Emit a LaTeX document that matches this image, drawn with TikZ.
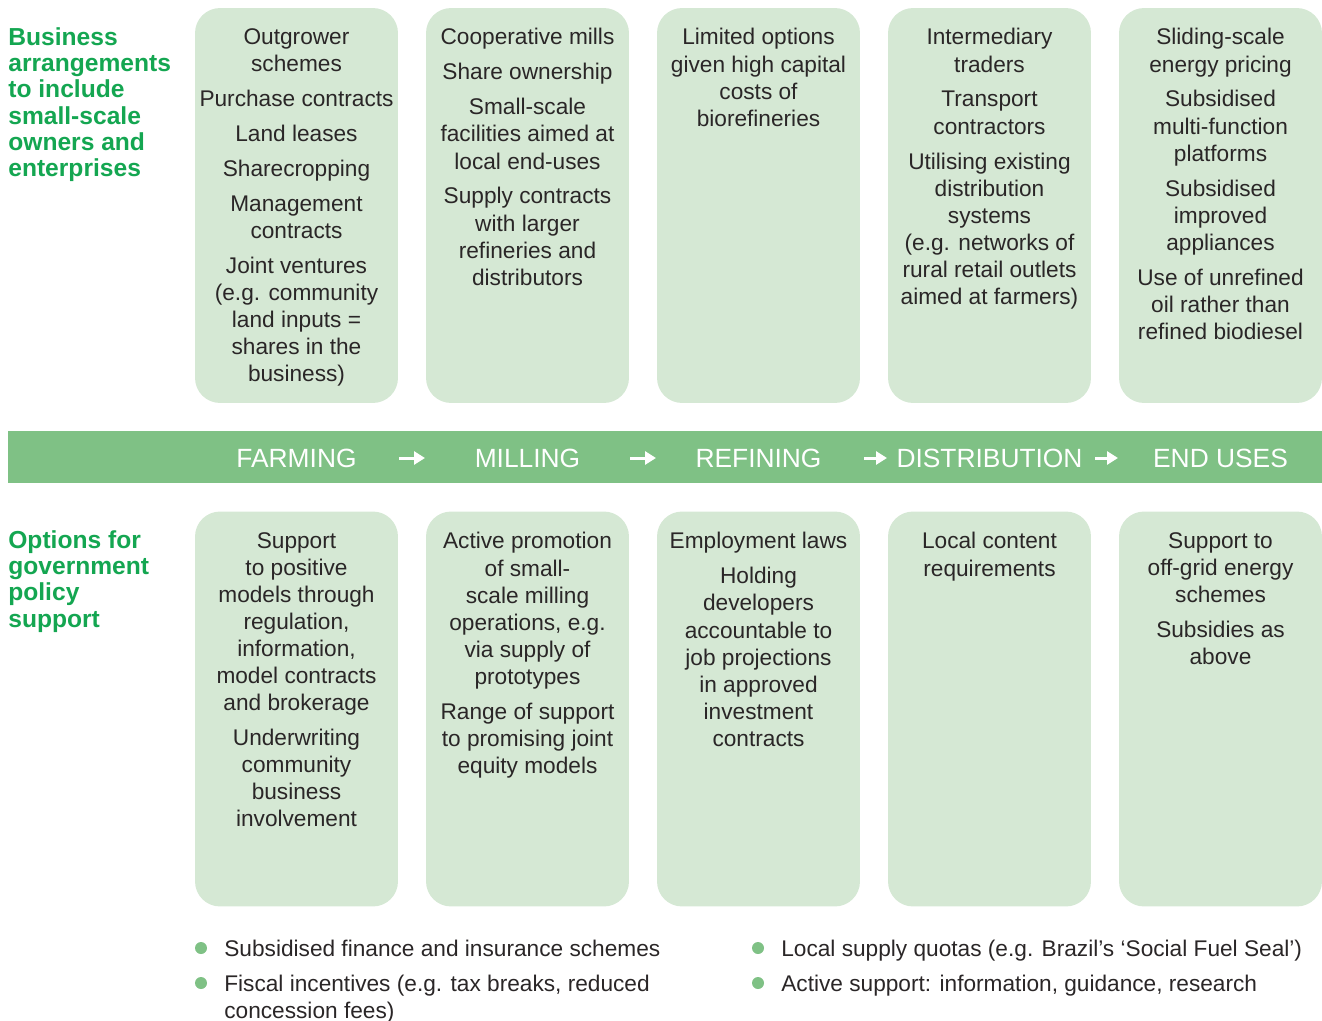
\documentclass[tikz,border=0pt]{standalone}
\usepackage{fontspec}
\setmainfont{Liberation Sans}
\usetikzlibrary{arrows.meta,calc}
\definecolor{boxgreen}{HTML}{D5E8D4}
\definecolor{bandgreen}{HTML}{7FC185}
\definecolor{headgreen}{HTML}{14A651}
\definecolor{inktext}{HTML}{2A2627}
\tikzset{
  stage/.style={fill=boxgreen, rounded corners=0.5cm, minimum width=4.06cm, minimum height=7.9cm, inner sep=0},
  entry/.style={anchor=north, inner sep=0, align=center, text=inktext, font=\fontsize{12.9}{15.4}\selectfont},
  heading/.style={anchor=north west, inner sep=0, align=left, text=headgreen, font=\fontsize{14}{15}\selectfont\bfseries},
  phase/.style={text=white, inner sep=0, font=\fontsize{15}{18}\selectfont},
  flow/.style={draw=white, line width=0.06cm, -{Triangle[length=0.22cm,width=0.26cm]}},
  dot/.style={circle, fill=bandgreen, minimum size=0.24cm, inner sep=0},
  point/.style={anchor=north west, inner sep=0, align=left, text=inktext, font=\fontsize{12.9}{15.4}\selectfont},
}
\begin{document}
\begin{tikzpicture}[x=0.02cm, y=-0.02cm]
  \useasboundingbox (0,0) rectangle (1322,1021);
  % headings
  \node[heading] (hbiz) at (8,27) {Business\\arrangements\\to include\\small-scale\\owners and\\enterprises};
  \node[heading] (hgov) at (8,530) {Options for\\government\\policy\\support};
  % upper boxes
  \node[stage] (t1) at (296.5,205.5) {};
  \node[stage] (t2) at (527.5,205.5) {};
  \node[stage] (t3) at (758.5,205.5) {};
  \node[stage] (t4) at (989.5,205.5) {};
  \node[stage] (t5) at (1220.5,205.5) {};
  \node[entry] (e1) at ([yshift=-0.41cm]t1.north) {Outgrower\\schemes\\[4.5pt]Purchase contracts\\[4.5pt]Land leases\\[4.5pt]Sharecropping\\[4.5pt]Management\\contracts\\[4.5pt]Joint ventures\\(e.g. community\\land inputs =\\shares in the\\business)};
  \node[entry] (e2) at ([yshift=-0.41cm]t2.north) {Cooperative mills\\[4.5pt]Share ownership\\[4.5pt]Small-scale\\facilities aimed at\\local end-uses\\[4.5pt]Supply contracts\\with larger\\refineries and\\distributors};
  \node[entry] (e3) at ([yshift=-0.41cm]t3.north) {Limited options\\given high capital\\costs of\\biorefineries};
  \node[entry] (e4) at ([yshift=-0.41cm]t4.north) {Intermediary\\traders\\[4.5pt]Transport\\contractors\\[4.5pt]Utilising existing\\distribution\\systems\\(e.g. networks of\\rural retail outlets\\aimed at farmers)};
  \node[entry] (e5) at ([yshift=-0.41cm]t5.north) {Sliding-scale\\energy pricing\\[4.5pt]Subsidised\\multi-function\\platforms\\[4.5pt]Subsidised\\improved\\appliances\\[4.5pt]Use of unrefined\\oil rather than\\refined biodiesel};
  % chain band
  \node[fill=bandgreen, minimum width=26.28cm, minimum height=1.04cm, inner sep=0] (band) at (665,457) {};
  \node[phase] (farm) at (296.5,458) {FARMING};
  \node[phase] (mill) at (527.5,458) {MILLING};
  \node[phase] (refine) at (758.5,458) {REFINING};
  \node[phase] (distrib) at (989.5,458) {DISTRIBUTION};
  \node[phase] (enduse) at (1220.5,458) {END USES};
  \draw[flow] ($(farm)!0.5!(mill)+(-13,0)$) -- ($(farm)!0.5!(mill)+(13,0)$);
  \draw[flow] ($(mill)!0.5!(refine)+(-13,0)$) -- ($(mill)!0.5!(refine)+(13,0)$);
  \draw[flow] ($(refine)!0.5!(distrib)+(-10,0)$) -- ($(refine)!0.5!(distrib)+(13,0)$);
  \draw[flow] ($(distrib)!0.5!(enduse)+(-10,0)$) -- ($(distrib)!0.5!(enduse)+(13,0)$);
  % lower boxes
  \node[stage] (b1) at (296.5,709) {};
  \node[stage] (b2) at (527.5,709) {};
  \node[stage] (b3) at (758.5,709) {};
  \node[stage] (b4) at (989.5,709) {};
  \node[stage] (b5) at (1220.5,709) {};
  \node[entry] (p1) at ([yshift=-0.42cm]b1.north) {Support\\to positive\\models through\\regulation,\\information,\\model contracts\\and brokerage\\[4.5pt]Underwriting\\community\\business\\involvement};
  \node[entry] (p2) at ([yshift=-0.42cm]b2.north) {Active promotion\\of small-\\scale milling\\operations, e.g.\\via supply of\\prototypes\\[4.5pt]Range of support\\to promising joint\\equity models};
  \node[entry] (p3) at ([yshift=-0.42cm]b3.north) {Employment laws\\[4.5pt]Holding\\developers\\accountable to\\job projections\\in approved\\investment\\contracts};
  \node[entry] (p4) at ([yshift=-0.42cm]b4.north) {Local content\\requirements};
  \node[entry] (p5) at ([yshift=-0.42cm]b5.north) {Support to\\off-grid energy\\schemes\\[4.5pt]Subsidies as\\above};
  % general measures
  \node[dot] (d1) at (201,948) {};
  \node[dot] (d2) at (201,983) {};
  \node[dot] (d3) at (758,948) {};
  \node[dot] (d4) at (758,983) {};
  \node[point] (g1) at (224,940) {Subsidised finance and insurance schemes};
  \node[point] (g2) at (224,975) {Fiscal incentives (e.g. tax breaks, reduced\\concession fees)};
  \node[point] (g3) at (781,940) {Local supply quotas (e.g. Brazil’s ‘Social Fuel Seal’)};
  \node[point] (g4) at (781,975) {Active support: information, guidance, research};
\end{tikzpicture}
\end{document}
